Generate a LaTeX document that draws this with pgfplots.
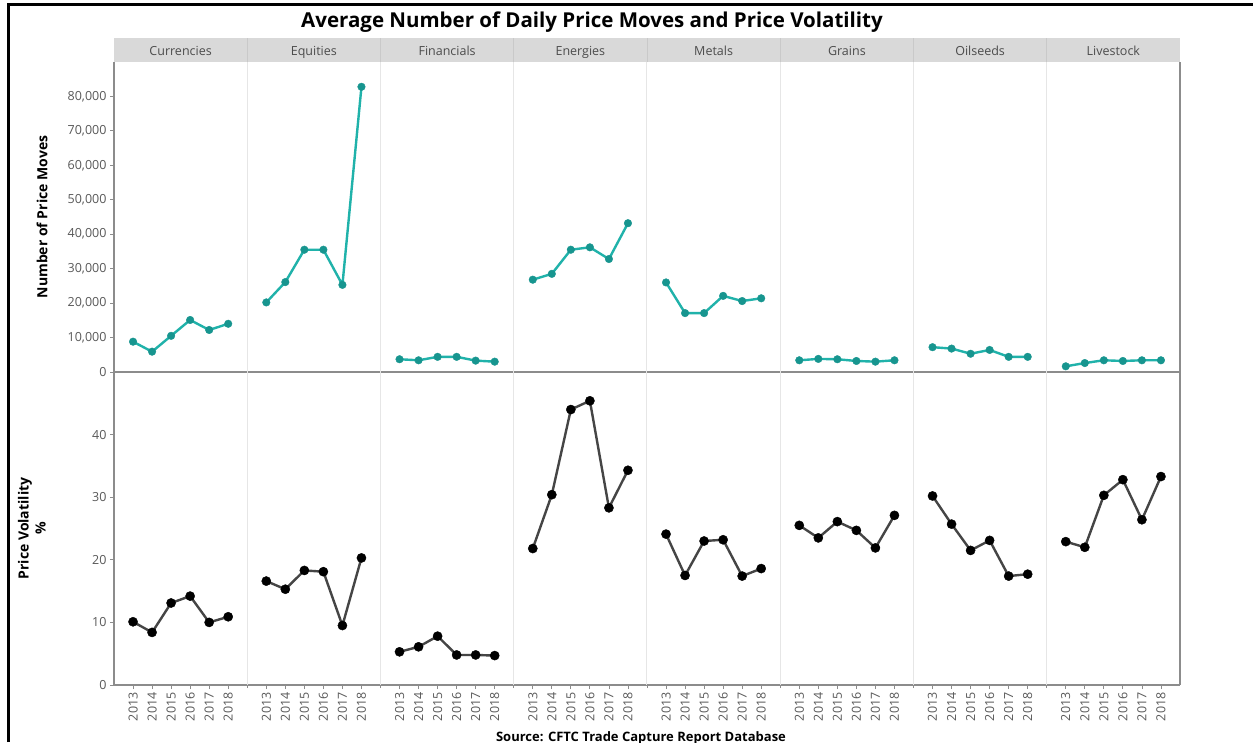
\documentclass[border=0pt]{standalone}
\usepackage{fontspec}
\setmainfont{Open Sans}
\usepackage{pgfplots}
\pgfplotsset{compat=1.18}
\definecolor{tealL}{HTML}{20B2AA}
\definecolor{tealM}{HTML}{17958F}
\definecolor{axgray}{HTML}{8C8C8C}
\definecolor{ticklab}{HTML}{595959}
\definecolor{stripg}{HTML}{D9D9D9}
\definecolor{stripline}{HTML}{C9C9C9}
\definecolor{divg}{HTML}{E6E6E6}
\definecolor{voline}{HTML}{454545}

% x = 7*panel + yearindex; nan rows break the line between panels
\pgfplotstableread{
x y
0 8800
1 5900
2 10500
3 15100
4 12200
5 14000
6 nan
7 20200
8 26100
9 35500
10 35500
11 25300
12 82800
13 nan
14 3700
15 3400
16 4400
17 4400
18 3300
19 3000
20 nan
21 26800
22 28500
23 35500
24 36200
25 32800
26 43200
27 nan
28 26000
29 17100
30 17100
31 22100
32 20600
33 21400
34 nan
35 3400
36 3800
37 3700
38 3200
39 3000
40 3400
41 nan
42 7200
43 6800
44 5300
45 6400
46 4400
47 4400
48 nan
49 1650
50 2600
51 3400
52 3200
53 3400
54 3400
}\moves

\pgfplotstableread{
x y
0 10.1
1 8.4
2 13.1
3 14.2
4 10.0
5 10.9
6 nan
7 16.6
8 15.3
9 18.3
10 18.1
11 9.5
12 20.3
13 nan
14 5.3
15 6.1
16 7.8
17 4.8
18 4.8
19 4.7
20 nan
21 21.8
22 30.4
23 44.0
24 45.4
25 28.3
26 34.3
27 nan
28 24.1
29 17.5
30 23.0
31 23.2
32 17.4
33 18.6
34 nan
35 25.5
36 23.5
37 26.1
38 24.7
39 21.9
40 27.1
41 nan
42 30.2
43 25.7
44 21.5
45 23.1
46 17.4
47 17.7
48 nan
49 22.9
50 22.0
51 30.3
52 32.8
53 26.4
54 33.3
}\vola

\tikzset{striplab/.style={font=\fontsize{12.5}{13}\selectfont, text=ticklab!85!black, anchor=base}}
\pgfplotsset{
  panel/.style={
    scale only axis, width=1066pt, xmin=-1, xmax=55,
    axis line style={axgray, line width=1.2pt},
    major tick style={axgray, line width=0.8pt},
    minor tick style={axgray, line width=0.8pt},
    tick align=outside, major tick length=4pt, minor tick length=3pt,
    tick label style={font=\fontsize{12.5}{13}\selectfont, text=ticklab},
    /pgf/number format/assume math mode=true,
    /pgf/number format/1000 sep={,},
    ylabel style={font=\fontsize{14}{17}\selectfont\bfseries, text=black},
    clip=false, unbounded coords=jump,
  },
}

\begin{document}
\begin{tikzpicture}[x=1pt,y=1pt]
\path[use as bounding box, clip] (0,0) rectangle (1253,742);
\fill[white] (0,0) rectangle (1253,742);

% Top panel row: number of price moves
\begin{axis}[panel, at={(114pt,370pt)}, anchor=south west, height=310pt,
  ymin=0, ymax=90000, ytick={0,10000,...,80000},
  xtick=\empty,
  ylabel={Number of Price Moves},
  ylabel style={at={(axis description cs:-0.0675,0.5)}, anchor=center, rotate=0},
  scaled y ticks=false,
  yticklabel style={/pgf/number format/fixed},
  axis y line*=left, axis x line*=bottom]
  \pgfplotsinvokeforeach{1,...,7}{
    \draw[divg, line width=1pt] (axis cs:{7*#1-1},0) -- (axis cs:{7*#1-1},90000);
  }
  \fill[stripg] (axis cs:-1,90000) rectangle (axis cs:55,96970);
  \pgfplotsinvokeforeach{1,...,7}{
    \draw[stripline, line width=0.8pt] (axis cs:{7*#1-1},90000) -- (axis cs:{7*#1-1},96970);
  }
  \draw[axgray, line width=1.2pt] (axis cs:55,0) -- (axis cs:55,90000);
  \node[striplab] at (axis cs:2.5,92000) {Currencies};
  \node[striplab] at (axis cs:9.5,92000) {Equities};
  \node[striplab] at (axis cs:16.5,92000) {Financials};
  \node[striplab] at (axis cs:23.5,92000) {Energies};
  \node[striplab] at (axis cs:30.5,92000) {Metals};
  \node[striplab] at (axis cs:37.5,92000) {Grains};
  \node[striplab] at (axis cs:44.5,92000) {Oilseeds};
  \node[striplab] at (axis cs:51.5,92000) {Livestock};
  \addplot[tealL, line width=2.4pt, line join=round, mark=*, mark size=3.8pt, mark options={solid, fill=tealM, draw=tealM, line width=0.4pt}]
    table[x=x, y=y] {\moves};
\end{axis}

% Bottom panel row: price volatility
\begin{axis}[panel, at={(114pt,57pt)}, anchor=south west, height=313pt,
  ymin=0, ymax=50, ytick={0,10,...,40},
  xtick={0,1,2,3,4,5,7,8,9,10,11,12,14,15,16,17,18,19,21,22,23,24,25,26,28,29,30,31,32,33,35,36,37,38,39,40,42,43,44,45,46,47,49,50,51,52,53,54},
  xticklabels={2013,2014,2015,2016,2017,2018,2013,2014,2015,2016,2017,2018,2013,2014,2015,2016,2017,2018,2013,2014,2015,2016,2017,2018,2013,2014,2015,2016,2017,2018,2013,2014,2015,2016,2017,2018,2013,2014,2015,2016,2017,2018,2013,2014,2015,2016,2017,2018},
  minor xtick={6,13,20,27,34,41,48},
  xticklabel style={rotate=90, anchor=east, xshift=0pt},
  ylabel={Price Volatility\\\%},
  ylabel style={at={(axis description cs:-0.077,0.5)}, anchor=center, align=center, rotate=0},
  axis y line*=left, axis x line*=bottom]
  \pgfplotsinvokeforeach{1,...,7}{
    \draw[divg, line width=1pt] (axis cs:{7*#1-1},0) -- (axis cs:{7*#1-1},50);
  }
  \draw[axgray, line width=1.2pt] (axis cs:55,0) -- (axis cs:55,50);
  \addplot[voline, line width=2.4pt, line join=round, mark=*, mark size=4.6pt, mark options={solid, fill=black, draw=black, line width=0.4pt}]
    table[x=x, y=y] {\vola};
\end{axis}

% frame
\draw[black, line width=3pt] (8.5,0) -- (8.5,737) -- (1253,737);

\node[font=\fontsize{20.5}{22}\selectfont\bfseries] at (592,720) {Average Number of Daily Price Moves and Price Volatility};
\node[font=\fontsize{13}{14}\selectfont\bfseries, anchor=base] at (641,1) {Source: CFTC Trade Capture Report Database};
\end{tikzpicture}
\end{document}
